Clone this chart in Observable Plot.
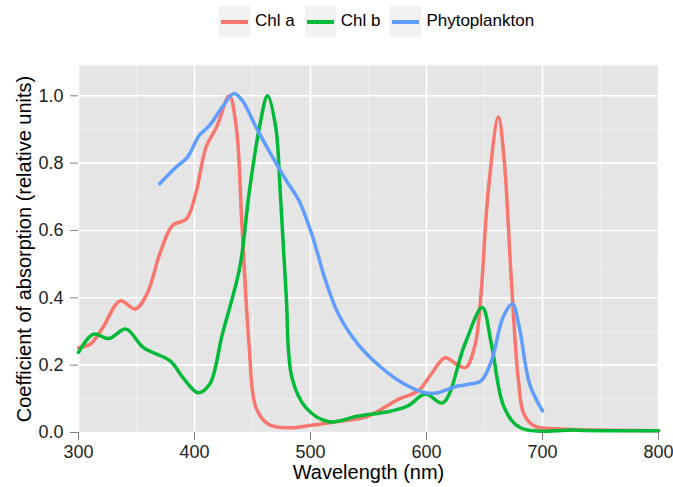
<!DOCTYPE html>
<html>
<head>
<meta charset="utf-8">
<script src="https://cdn.jsdelivr.net/npm/d3@7"></script>
<script src="https://cdn.jsdelivr.net/npm/@observablehq/plot@0.6"></script>
<style>
  body { margin: 0; background: #fff; font-family: "Liberation Sans", Arial, sans-serif; }
  #wrap { position: relative; width: 673px; height: 487px; }
  #legend { position: absolute; left: 219px; top: 5px; height: 32px; display: flex; align-items: center; font-size: 17px; color: #000; }
  .key { width: 31px; height: 31px; background: #f2f2f2; position: relative; margin-right: 5px; }
  .key span { position: absolute; left: 2px; right: 2px; top: 14px; height: 4px; }
  .lab { margin-right: 10px; }
  #chart { position: absolute; left: 0; top: 42px; }
</style>
</head>
<body>
<div id="wrap">
  <div id="legend"></div>
  <div id="chart"></div>
</div>
<script>
const seriesNames = ["Chl a", "Chl b", "Phytoplankton"];
const seriesColors = ["#F8766D", "#00BA38", "#619CFF"];

const chlA_nm = [300,310,321,336,349,359,370,381,393,401,410,419,430,436,441,447,453,464,484,499,527,550,576,593,604,616,627,634,642,647,653,662,667,673,679,684,693,719,760,800];
const chlA    = [0.252,0.262,0.312,0.391,0.367,0.411,0.530,0.615,0.634,0.709,0.848,0.907,1.0,0.907,0.61,0.262,0.074,0.024,0.014,0.021,0.034,0.049,0.099,0.124,0.173,0.222,0.200,0.193,0.262,0.411,0.709,0.937,0.808,0.461,0.163,0.054,0.019,0.010,0.007,0.005];

const chlB_nm = [300,313,326,341,356,379,390,403,413,424,439,447,456,463,470,474,479,484,496,516,541,570,584,599,614,633,648,656,667,681,730,800];
const chlB    = [0.238,0.292,0.279,0.307,0.252,0.213,0.163,0.118,0.143,0.292,0.49,0.709,0.907,1.0,0.907,0.709,0.411,0.163,0.074,0.032,0.049,0.064,0.079,0.114,0.088,0.262,0.371,0.262,0.074,0.014,0.007,0.005];

const phyto_nm = [370,384,394,404,413,424,434,441,453,464,479,490,501,513,524,541,561,579,599,610,619,627,636,647,656,666,674,680,689,700];
const phyto    = [0.739,0.788,0.818,0.882,0.912,0.967,1.007,0.987,0.907,0.838,0.749,0.689,0.590,0.451,0.352,0.262,0.193,0.148,0.118,0.118,0.129,0.138,0.143,0.153,0.213,0.342,0.382,0.312,0.143,0.064];

const xMajor = [300,400,500,600,700,800];
const xMinor = [350,450,550,650,750];
const yMajor = [0,0.2,0.4,0.6,0.8,1.0];
const yMinor = [0.1,0.3,0.5,0.7,0.9];

const xTitle = "Wavelength (nm)";
const yTitle = "Coefficient of absorption (relative units)";

const data = [];
[[chlA_nm, chlA, seriesNames[0]], [chlB_nm, chlB, seriesNames[1]], [phyto_nm, phyto, seriesNames[2]]]
  .forEach(([xs, ys, name]) => xs.forEach((x, i) => data.push({wl: x, v: ys[i], s: name})));

// legend
const leg = document.getElementById("legend");
seriesNames.forEach((n, i) => {
  const k = document.createElement("div"); k.className = "key";
  const sp = document.createElement("span"); sp.style.background = seriesColors[i];
  k.appendChild(sp); leg.appendChild(k);
  const l = document.createElement("div"); l.className = "lab"; l.textContent = n;
  leg.appendChild(l);
});

const chart = Plot.plot({
  width: 673,
  height: 445,
  marginLeft: 78,
  marginRight: 15,
  marginTop: 23,
  marginBottom: 55,
  style: { fontFamily: "Liberation Sans, Arial, sans-serif", fontSize: "17px", background: "transparent", overflow: "visible" },
  x: { domain: [300, 800] },
  y: { domain: [0, 1.09] },
  color: { domain: seriesNames, range: seriesColors },
  marks: [
    Plot.frame({ fill: "#e5e5e5", stroke: null }),
    Plot.ruleX(xMinor, { stroke: "#f2f2f2", strokeWidth: 0.8 }),
    Plot.ruleY(yMinor, { stroke: "#f2f2f2", strokeWidth: 0.8 }),
    Plot.ruleX(xMajor, { stroke: "#ffffff", strokeWidth: 1.6 }),
    Plot.ruleY(yMajor, { stroke: "#ffffff", strokeWidth: 1.6 }),
    Plot.line(data, { x: "wl", y: "v", z: "s", stroke: "s", strokeWidth: 3.5, curve: "catmull-rom" }),
    Plot.axisX({ ticks: xMajor, tickSize: 8, tickPadding: 5, stroke: "#7f7f7f", fill: "#222", label: null, fontSize: 18 }),
    Plot.axisY({ ticks: yMajor, tickSize: 8, tickPadding: 7, tickFormat: ".1f", stroke: "#7f7f7f", fill: "#222", label: null, fontSize: 18 }),
    Plot.text([xTitle], { text: d => d, frameAnchor: "bottom", dy: 46, fontSize: 20, fill: "#000", textAnchor: "middle" }),
    Plot.text([yTitle], { text: d => d, frameAnchor: "left", dx: -54, rotate: -90, fontSize: 20, fill: "#000", textAnchor: "middle" })
  ]
});
document.getElementById("chart").appendChild(chart);
</script>
</body>
</html>
